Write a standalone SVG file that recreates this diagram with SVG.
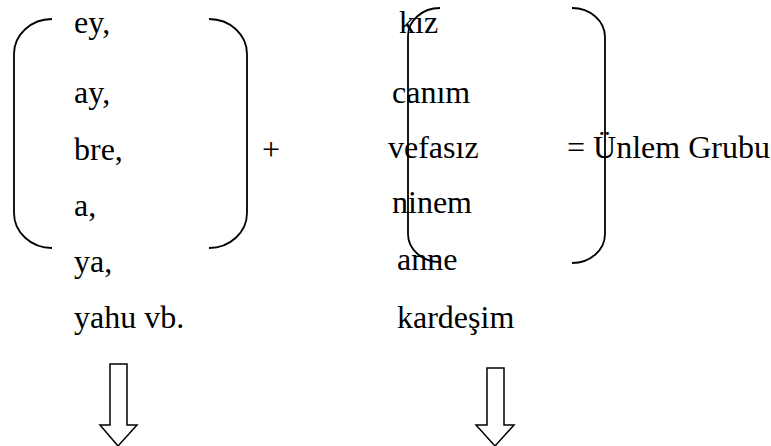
<svg xmlns="http://www.w3.org/2000/svg" width="771" height="446" viewBox="0 0 771 446">
<style>
  .t { font-family: "Liberation Serif", "Times New Roman", "DejaVu Serif", serif; font-size: 32px; fill: #000; }
  .br { fill: none; stroke: #000; stroke-width: 1.8; }
  .ar { fill: #fff; stroke: #000; stroke-width: 1.5; stroke-linejoin: miter; }
</style>
<rect width="771" height="446" fill="#fff"/>
<g id="left-words">
  <text class="t" x="74" y="33">ey,</text>
  <text class="t" x="74" y="103">ay,</text>
  <text class="t" x="74" y="160">bre,</text>
  <text class="t" x="74" y="216">a,</text>
  <text class="t" x="74" y="272">ya,</text>
  <text class="t" x="74" y="328">yahu vb.</text>
</g>
<g id="left-bracket">
  <path class="br" d="M52,19 A38,35 0 0 0 14,54 L14,213 A38,35 0 0 0 52,248"/>
  <path class="br" d="M209,19 A38,35 0 0 1 247,54 L247,213 A38,35 0 0 1 209,248"/>
</g>
<g id="plus">
  <text class="t" x="262" y="160">+</text>
</g>
<g id="right-words">
  <text class="t" x="399" y="33">kız</text>
  <text class="t" x="392" y="103">canım</text>
  <text class="t" x="388" y="158">vefasız</text>
  <text class="t" x="392" y="213">ninem</text>
  <text class="t" x="397" y="270">anne</text>
  <text class="t" x="397" y="328">kardeşim</text>
</g>
<g id="right-bracket">
  <path class="br" d="M440,8 A32,28 0 0 0 408,36 L408,234 A32,28 0 0 0 440,262"/>
  <path class="br" d="M572,8 A33,29 0 0 1 605,37 L605,234 A33,29 0 0 1 572,263"/>
</g>
<g id="result">
  <text class="t" x="567" y="158">= Ünlem Grubu</text>
</g>
<g id="connectors">
  <path class="ar" d="M110,364 L127,364 L127,425 L137,425 L118,446 L100,425 L110,425 Z"/>
  <path class="ar" d="M487,368 L504,368 L504,425 L514,425 L495,446 L476,425 L487,425 Z"/>
</g>
</svg>
